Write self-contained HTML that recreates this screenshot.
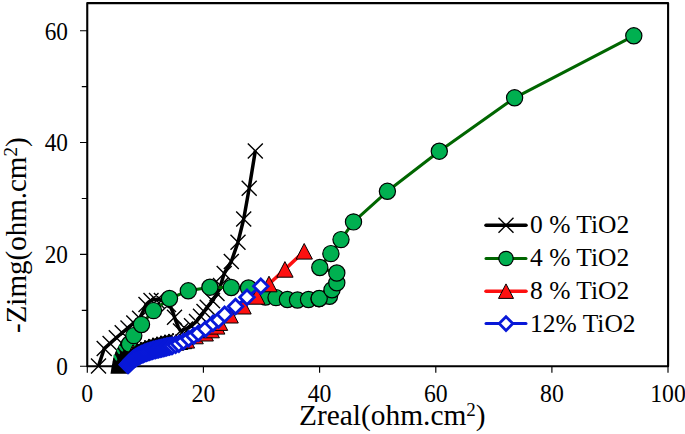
<!DOCTYPE html><html><head><meta charset="utf-8"><style>html,body{margin:0;padding:0;background:#fff;overflow:hidden;}svg{display:block;}text{font-family:"Liberation Serif",serif;fill:#000;}</style></head><body>
<svg width="685" height="434" viewBox="0 0 685 434">
<rect width="685" height="434" fill="#fff"/>
<path d="M87.25 3.1H668.1V366.25H87.25Z" fill="none" stroke="#000" stroke-width="2.1" stroke-linejoin="round"/>
<path d="M80 366.2H87M81.8 310.3H87M80 254.4H87M81.8 198.5H87M80 142.5H87M81.8 86.6H87M80 30.7H87M87.3 366V372.7M203.4 366V372.7M319.6 366V372.7M435.8 366V372.7M551.9 366V372.7M668 366V372.7" stroke="#000" stroke-width="1.15" fill="none"/>
<text transform="translate(68,375.1) scale(0.95,1)" font-size="24.5" text-anchor="end">0</text>
<text transform="translate(68,263.2) scale(0.95,1)" font-size="24.5" text-anchor="end">20</text>
<text transform="translate(68,151.3) scale(0.95,1)" font-size="24.5" text-anchor="end">40</text>
<text transform="translate(68,39.5) scale(0.95,1)" font-size="24.5" text-anchor="end">60</text>
<text transform="translate(87.3,401.5) scale(0.97,1)" font-size="24.5" text-anchor="middle">0</text>
<text transform="translate(203.4,401.5) scale(0.97,1)" font-size="24.5" text-anchor="middle">20</text>
<text transform="translate(319.6,401.5) scale(0.97,1)" font-size="24.5" text-anchor="middle">40</text>
<text transform="translate(435.8,401.5) scale(0.97,1)" font-size="24.5" text-anchor="middle">60</text>
<text transform="translate(551.9,401.5) scale(0.97,1)" font-size="24.5" text-anchor="middle">80</text>
<text transform="translate(668,401.5) scale(0.97,1)" font-size="24.5" text-anchor="middle">100</text>
<text x="299" y="425" font-size="29.4">Zreal(ohm.cm<tspan dy="-9" font-size="19">2</tspan><tspan dy="9">)</tspan></text>
<text transform="translate(25.5,333) rotate(-90)" font-size="29">-Zimg(ohm.cm<tspan dy="-9" font-size="19">2</tspan><tspan dy="9">)</tspan></text>
<polyline fill="none" stroke="#000" stroke-width="3.5" stroke-linejoin="round" points="98.5,366 104.2,348.6 110.1,343.4 116.3,337.8 122.2,332.7 128,327.9 133.8,322.9 139.6,318.2 143,311.5 146,304.5 149,301.8 153,299.7 157,299.2 161,300 165,302 168.5,304.6 171,308 173,312.5 174.5,317.3 176.5,322.5 178.3,327 180.5,331 185.5,329 191.5,325.7 196.5,321.5 200.5,316.3 204,311.5 207.2,307.2 212.5,300.7 217,293.5 220.5,285.5 224.2,273.5 231.3,261.5 238,242.2 243.7,219 249.2,188.2 255.3,150.9"/>
<path d="M91 358.5L106 373.5M91 373.5L106 358.5M96.7 341.1L111.7 356.1M96.7 356.1L111.7 341.1M102.6 335.9L117.6 350.9M102.6 350.9L117.6 335.9M108.8 330.3L123.8 345.3M108.8 345.3L123.8 330.3M114.7 325.2L129.7 340.2M114.7 340.2L129.7 325.2M120.5 320.4L135.5 335.4M120.5 335.4L135.5 320.4M126.3 315.4L141.3 330.4M126.3 330.4L141.3 315.4M132.1 310.7L147.1 325.7M132.1 325.7L147.1 310.7M138.5 297L153.5 312M138.5 312L153.5 297M143.5 293.1L158.5 308.1M143.5 308.1L158.5 293.1M149 293L164 308M149 308L164 293M153.9 293.1L168.9 308.1M153.9 308.1L168.9 293.1M161 297.1L176 312.1M161 312.1L176 297.1M167 309.8L182 324.8M167 324.8L182 309.8M173 323.5L188 338.5M173 338.5L188 323.5M178 321.5L193 336.5M178 336.5L193 321.5M184 318.2L199 333.2M184 333.2L199 318.2M189 314L204 329M189 329L204 314M193 308.8L208 323.8M193 323.8L208 308.8M196.5 304L211.5 319M196.5 319L211.5 304M199.7 299.7L214.7 314.7M199.7 314.7L214.7 299.7M205 293.2L220 308.2M205 308.2L220 293.2M209.5 286L224.5 301M209.5 301L224.5 286M213 278L228 293M213 293L228 278M216.7 266L231.7 281M216.7 281L231.7 266M223.8 254L238.8 269M223.8 269L238.8 254M230.5 234.7L245.5 249.7M230.5 249.7L245.5 234.7M236.2 211.5L251.2 226.5M236.2 226.5L251.2 211.5M241.7 180.7L256.7 195.7M241.7 195.7L256.7 180.7M247.8 143.4L262.8 158.4M247.8 158.4L262.8 143.4" stroke="#000" stroke-width="1.4" fill="none"/>
<polyline fill="none" stroke="#006600" stroke-width="3" stroke-linejoin="round" points="121.5,362 124,355 127,349 129.5,344 133.8,335.6 141.5,324.5 153.5,310.6 169.5,298.5 188.3,290.8 209.9,287.2 231.3,287.5 248.5,288 265.5,297 276,297.6 287.4,299.5 297.5,300 308.5,299.5 319,298.7 329.5,296.3 332,289.8 336.8,282.8 336.8,273 319.8,267.5 330.9,253.6 341,239.6 353.5,221.9 387.4,191.3 439.3,151.2 514.6,97.8 633.8,35.8"/>
<g fill="#00B050" stroke="#000" stroke-width="1.2"><circle cx="121.5" cy="362" r="8.1"/><circle cx="124" cy="355" r="8.1"/><circle cx="127" cy="349" r="8.1"/></g>
<path d="M110.5 373.8L111.5 367.3L112.8 360.8L113.8 356.2L115.1 353L117 348.8L119.3 345.1L122 340.5L124.4 338.2L126.7 336L130 337.5L133 340.5L137 343.5L141 345L141 362L128.5 373.8Z" fill="#000"/>
<g fill="#00B050"><ellipse cx="115.4" cy="357.6" rx="1.2" ry="3.4" transform="rotate(-25 115.4 357.6)"/><ellipse cx="118.3" cy="351.6" rx="1.1" ry="2.9" transform="rotate(-30 118.3 351.6)"/><ellipse cx="120.9" cy="348.5" rx="1.3" ry="3.6" transform="rotate(-35 120.9 348.5)"/></g>
<g fill="#00B050" stroke="#000" stroke-width="1.2"><circle cx="129.5" cy="344" r="8.1"/><circle cx="133.8" cy="335.6" r="8.1"/><circle cx="141.5" cy="324.5" r="8.1"/><circle cx="153.5" cy="310.6" r="8.1"/><circle cx="169.5" cy="298.5" r="8.1"/><circle cx="188.3" cy="290.8" r="8.1"/><circle cx="209.9" cy="287.2" r="8.1"/><circle cx="231.3" cy="287.5" r="8.1"/><circle cx="248.5" cy="288" r="8.1"/><circle cx="265.5" cy="297" r="8.1"/><circle cx="276" cy="297.6" r="8.1"/><circle cx="287.4" cy="299.5" r="8.1"/><circle cx="297.5" cy="300" r="8.1"/><circle cx="308.5" cy="299.5" r="8.1"/><circle cx="319" cy="298.7" r="8.1"/><circle cx="329.5" cy="296.3" r="8.1"/><circle cx="319.2" cy="298.5" r="8.1"/><circle cx="332" cy="289.8" r="8.1"/><circle cx="336.8" cy="282.8" r="8.1"/><circle cx="336.8" cy="273" r="8.1"/><circle cx="319.8" cy="267.5" r="8.1"/><circle cx="330.9" cy="253.6" r="8.1"/><circle cx="341" cy="239.6" r="8.1"/><circle cx="353.5" cy="221.9" r="8.1"/><circle cx="387.4" cy="191.3" r="8.1"/><circle cx="439.3" cy="151.2" r="8.1"/><circle cx="514.6" cy="97.8" r="8.1"/><circle cx="633.8" cy="35.8" r="8.1"/></g>
<polyline fill="none" stroke="#FD1010" stroke-width="3.5" stroke-linejoin="round" points="133,352.5 136.9,351.6 140.8,350.6 144.6,349.4 148.4,348.3 152.3,347.2 156.2,346.2 160,345.2 164,344.4 167.9,343.7 171.8,343 175.8,342.4 179.7,341.7 183.6,340.9 186.5,340.3 195.2,336 205.3,333.2 211.3,330 216.8,326.3 219.6,322.6 230.2,315.2 243.1,306.2 256.9,296.4 269,284 284.9,269.4 304.2,251.3"/>
<g fill="#FD1010" stroke="#000" stroke-width="1"><path d="M133 344.7L141.1 360.3L124.9 360.3Z"/><path d="M136.9 343.8L145 359.4L128.8 359.4Z"/><path d="M140.8 342.8L148.9 358.4L132.7 358.4Z"/><path d="M144.6 341.6L152.7 357.2L136.5 357.2Z"/><path d="M148.4 340.5L156.5 356.1L140.3 356.1Z"/><path d="M152.3 339.4L160.4 355L144.2 355Z"/><path d="M156.2 338.4L164.3 354L148.1 354Z"/><path d="M160 337.4L168.1 353L151.9 353Z"/><path d="M164 336.6L172.1 352.2L155.9 352.2Z"/><path d="M167.9 335.9L176 351.5L159.8 351.5Z"/><path d="M171.8 335.2L179.9 350.8L163.7 350.8Z"/><path d="M175.8 334.6L183.9 350.2L167.7 350.2Z"/><path d="M179.7 333.9L187.8 349.5L171.6 349.5Z"/><path d="M183.6 333.1L191.7 348.7L175.5 348.7Z"/><path d="M186.5 332.5L194.6 348.1L178.4 348.1Z"/><path d="M195.2 328.2L203.3 343.8L187.1 343.8Z"/><path d="M205.3 325.4L213.4 341L197.2 341Z"/><path d="M211.3 322.2L219.4 337.8L203.2 337.8Z"/><path d="M216.8 318.5L224.9 334.1L208.7 334.1Z"/><path d="M219.6 314.8L227.7 330.4L211.5 330.4Z"/><path d="M230.2 307.4L238.3 323L222.1 323Z"/><path d="M243.1 298.4L251.2 314L235 314Z"/><path d="M256.9 288.6L265 304.2L248.8 304.2Z"/><path d="M269 276.2L277.1 291.8L260.9 291.8Z"/><path d="M284.9 261.6L293.1 277.2L276.8 277.2Z"/><path d="M304.2 243.5L312.4 259.1L296.1 259.1Z"/></g>
<polyline fill="none" stroke="#000" stroke-width="3.2" stroke-linejoin="round" points="128,354.9 129.1,353.7 130.1,352.5 131.2,351.3 132.3,350.2 133.6,349.2 134.9,348.3 136.2,347.3 137.6,346.5 139,345.8 140.4,345 141.9,344.4 143.3,343.8 144.8,343.2 146.3,342.7 147.8,342.1 149.3,341.6 150.9,341.1 152.4,340.7 153.9,340.2 155.5,339.8 157,339.4 158.6,339 160.1,338.7 161.7,338.3 163.3,337.9 164.8,337.5 166.4,337.2 167.9,336.9 169.5,336.6 171.1,336.3 172.5,336.1"/>
<g fill="#000"><circle cx="133" cy="347.8" r="1.1"/><circle cx="137" cy="345" r="1.1"/><circle cx="141" cy="342.9" r="1.1"/><circle cx="145" cy="341.2" r="1.1"/><circle cx="149" cy="339.8" r="1.1"/><circle cx="153" cy="338.6" r="1.1"/><circle cx="157" cy="337.5" r="1.1"/><circle cx="161" cy="336.6" r="1.1"/><circle cx="165" cy="335.6" r="1.1"/><circle cx="169" cy="334.8" r="1.1"/><circle cx="173" cy="334.2" r="1.1"/></g>
<polyline fill="none" stroke="#0818D8" stroke-width="3" stroke-linejoin="round" points="128,364 129.1,362.8 130.1,361.6 131.2,360.4 132.3,359.3 133.6,358.3 134.9,357.4 136.2,356.4 137.6,355.6 139,354.9 140.4,354.1 141.9,353.5 143.3,352.9 144.8,352.3 146.3,351.8 147.8,351.2 149.3,350.7 150.9,350.2 152.4,349.8 153.9,349.3 155.5,348.9 157,348.5 158.6,348.1 160.1,347.8 161.7,347.4 163.3,347 164.8,346.6 166.4,346.3 167.9,346 169.5,345.7 171.1,345.4 172.5,345.2 175.6,344.6 178.9,343.6 183.5,341.5 188.7,338.7 193.8,335.9 198.4,333.2 205.6,329 213,323.4 218.6,320 224.6,314.4 235.5,306.5 247,297.3 260.8,286.2"/>
<g fill="#fff" stroke="#0818D8" stroke-width="2.8"><path d="M120 364.8L128 356.8L136 364.8L128 372.8Z"/><path d="M121.1 363.6L129.1 355.6L137.1 363.6L129.1 371.6Z"/><path d="M122.1 362.4L130.1 354.4L138.1 362.4L130.1 370.4Z"/><path d="M123.2 361.2L131.2 353.2L139.2 361.2L131.2 369.2Z"/><path d="M124.3 360.1L132.3 352.1L140.3 360.1L132.3 368.1Z"/><path d="M125.6 359.1L133.6 351.1L141.6 359.1L133.6 367.1Z"/><path d="M126.9 358.2L134.9 350.2L142.9 358.2L134.9 366.2Z"/><path d="M128.2 357.2L136.2 349.2L144.2 357.2L136.2 365.2Z"/><path d="M129.6 356.4L137.6 348.4L145.6 356.4L137.6 364.4Z"/><path d="M131 355.7L139 347.7L147 355.7L139 363.7Z"/><path d="M132.4 354.9L140.4 346.9L148.4 354.9L140.4 362.9Z"/><path d="M133.9 354.3L141.9 346.3L149.9 354.3L141.9 362.3Z"/><path d="M135.3 353.7L143.3 345.7L151.3 353.7L143.3 361.7Z"/><path d="M136.8 353.1L144.8 345.1L152.8 353.1L144.8 361.1Z"/><path d="M138.3 352.6L146.3 344.6L154.3 352.6L146.3 360.6Z"/><path d="M139.8 352L147.8 344L155.8 352L147.8 360Z"/><path d="M141.3 351.5L149.3 343.5L157.3 351.5L149.3 359.5Z"/><path d="M142.9 351L150.9 343L158.9 351L150.9 359Z"/><path d="M144.4 350.6L152.4 342.6L160.4 350.6L152.4 358.6Z"/><path d="M145.9 350.1L153.9 342.1L161.9 350.1L153.9 358.1Z"/><path d="M147.5 349.7L155.5 341.7L163.5 349.7L155.5 357.7Z"/><path d="M149 349.3L157 341.3L165 349.3L157 357.3Z"/><path d="M150.6 348.9L158.6 340.9L166.6 348.9L158.6 356.9Z"/><path d="M152.1 348.6L160.1 340.6L168.1 348.6L160.1 356.6Z"/><path d="M153.7 348.2L161.7 340.2L169.7 348.2L161.7 356.2Z"/><path d="M155.3 347.8L163.3 339.8L171.3 347.8L163.3 355.8Z"/><path d="M156.8 347.4L164.8 339.4L172.8 347.4L164.8 355.4Z"/><path d="M158.4 347.1L166.4 339.1L174.3 347.1L166.4 355Z"/><path d="M160.1 346.7L167.9 338.8L175.8 346.7L167.9 354.6Z"/><path d="M161.7 346.3L169.5 338.5L177.4 346.3L169.5 354.2Z"/><path d="M163.3 346L171.1 338.2L178.9 346L171.1 353.8Z"/><path d="M164.8 345.7L172.5 338L180.2 345.7L172.5 353.4Z"/><path d="M168 345L175.6 337.3L183.2 345L175.6 352.6Z"/><path d="M171.4 343.8L178.9 336.3L186.4 343.8L178.9 351.4Z"/><path d="M176.1 341.6L183.5 334.2L190.9 341.6L183.5 348.9Z"/><path d="M181.4 338.7L188.7 331.4L196 338.7L188.7 346Z"/><path d="M186.5 335.9L193.8 328.6L201.1 335.9L193.8 343.2Z"/><path d="M191.1 333.2L198.4 325.9L205.7 333.2L198.4 340.5Z"/><path d="M198.3 329L205.6 321.7L212.9 329L205.6 336.3Z"/><path d="M205.7 323.4L213 316.1L220.3 323.4L213 330.7Z"/><path d="M211.3 320L218.6 312.7L225.9 320L218.6 327.3Z"/><path d="M217.3 314.4L224.6 307.1L231.9 314.4L224.6 321.7Z"/><path d="M228.2 306.5L235.5 299.2L242.8 306.5L235.5 313.8Z"/><path d="M239.7 297.3L247 290L254.3 297.3L247 304.6Z"/><path d="M253.5 286.2L260.8 278.9L268.1 286.2L260.8 293.5Z"/></g>
<line x1="486" y1="225.2" x2="526" y2="225.2" stroke="#000" stroke-width="3.5" stroke-linecap="round"/>
<path d="M498.5 217.7L513.5 232.7M498.5 232.7L513.5 217.7" stroke="#000" stroke-width="1.4" fill="none"/>
<line x1="486" y1="258.5" x2="526" y2="258.5" stroke="#006600" stroke-width="3" stroke-linecap="round"/>
<g fill="#00B050" stroke="#000" stroke-width="1.2"><circle cx="506" cy="258.5" r="7.2"/></g>
<line x1="486" y1="291.3" x2="526" y2="291.3" stroke="#FD1010" stroke-width="3.5" stroke-linecap="round"/>
<g fill="#FD1010" stroke="#000" stroke-width="1"><path d="M506 283.9L513.5 298.4L498.5 298.4Z"/></g>
<line x1="486" y1="323.6" x2="526" y2="323.6" stroke="#0818D8" stroke-width="3" stroke-linecap="round"/>
<g fill="#fff" stroke="#0818D8" stroke-width="2.8"><path d="M499.2 323.6L506 316.8L512.8 323.6L506 330.4Z"/></g>
<text x="530" y="233.2" font-size="25.5" xml:space="preserve">0 % TiO2</text>
<text x="530" y="266.2" font-size="25.5" xml:space="preserve">4 % TiO2</text>
<text x="530" y="299.2" font-size="25.5" xml:space="preserve">8 % TiO2</text>
<text x="530" y="332.2" font-size="25.5" xml:space="preserve">12% TiO2</text>
</svg></body></html>
